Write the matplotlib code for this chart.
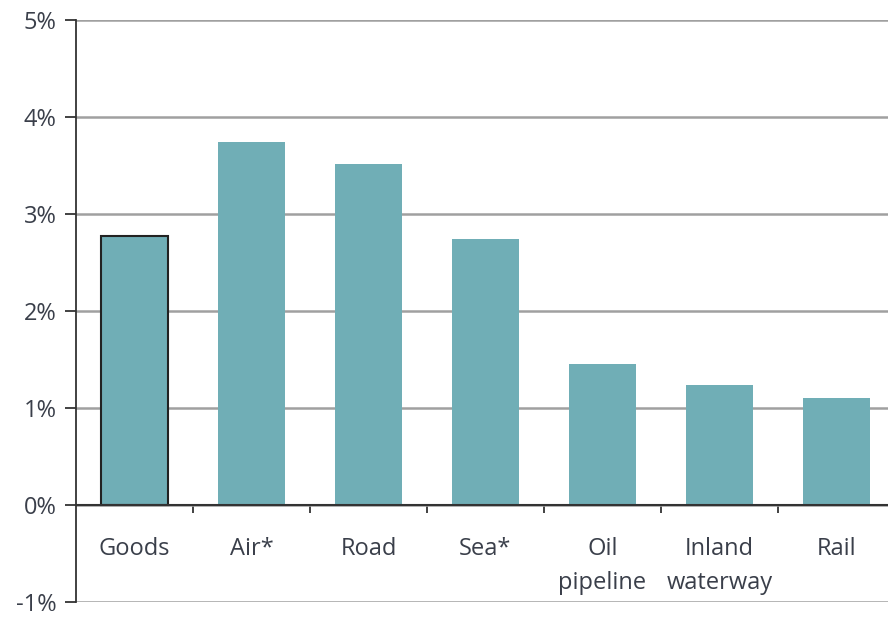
import numpy as np
import matplotlib.pyplot as plt
from matplotlib.ticker import FixedLocator, FuncFormatter

# Growth rate by transport mode
categories = ["Goods", "Air*", "Road", "Sea*", "Oil\npipeline", "Inland\nwaterway", "Rail"]
values = [2.77, 3.74, 3.52, 2.74, 1.45, 1.24, 1.10]
y_ticks = [-1, 0, 1, 2, 3, 4, 5]

bar_color = "#70aeb6"
text_color = "#3a3f4a"

plt.rcParams['font.family'] = ['Open Sans', 'DejaVu Sans']

fig = plt.figure(figsize=(8.88, 6.17), dpi=100)
ax = fig.add_axes([76 / 888, (617 - 602) / 617, 819 / 888, (602 - 20) / 617])

x = np.arange(len(categories))
edges = ["#222222"] + ["none"] * (len(categories) - 1)
ax.bar(x, values, width=0.57, color=bar_color, edgecolor=edges, linewidth=1.5, zorder=3)

ax.set_xlim(-0.5, len(categories) - 0.5)
ax.set_ylim(y_ticks[0], y_ticks[-1])

# horizontal grid
ax.set_yticks(y_ticks)
ax.yaxis.set_major_formatter(FuncFormatter(lambda v, p: f"{int(v)}%"))
ax.grid(axis='y', color="#a0a0a0", linewidth=1.8, zorder=0)
ax.tick_params(axis='y', length=8, width=1.3, color="#333333", pad=6,
               labelsize=17, labelcolor=text_color)

# category axis sits on the 0% line
ax.spines['bottom'].set_position(('data', 0))
ax.spines['bottom'].set_color("#333333")
ax.spines['bottom'].set_linewidth(1.5)
ax.spines['bottom'].set_zorder(4)
ax.spines['left'].set_color("#333333")
ax.spines['left'].set_linewidth(1.3)
ax.spines['top'].set_visible(False)
ax.spines['right'].set_visible(False)

ax.set_xticks(x)
ax.set_xticklabels(categories, linespacing=1.55, va='top')
ax.xaxis.set_minor_locator(FixedLocator(x[:-1] + 0.5))
ax.tick_params(axis='x', which='major', length=0, pad=23, labelsize=17, labelcolor=text_color)
ax.tick_params(axis='x', which='minor', length=6, width=1.3, color="#333333", direction='out')

fig.savefig("out.png", dpi=100)
